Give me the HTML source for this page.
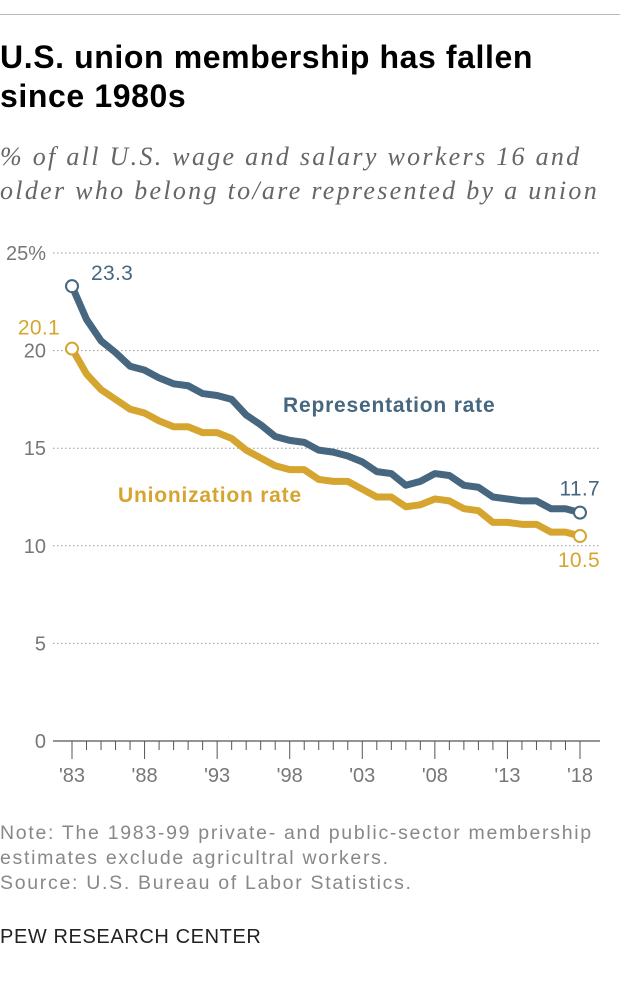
<!DOCTYPE html>
<html><head><meta charset="utf-8"><style>
body{margin:0;background:#fff;width:620px;height:990px;overflow:hidden;font-family:"Liberation Sans",sans-serif}
.rule{position:absolute;left:0;top:14px;width:620px;height:1px;background:#bbb}
h1{position:absolute;left:0;top:38px;margin:0;font-size:32px;line-height:39px;font-weight:bold;color:#000;width:580px;letter-spacing:0.6px}
.sub{position:absolute;left:0;top:140px;font-family:"Liberation Serif",serif;font-style:italic;font-size:26px;line-height:34px;color:#666;letter-spacing:2.3px;white-space:nowrap}
.note{position:absolute;left:0;top:821px;font-size:19.5px;line-height:25px;color:#888;letter-spacing:1.7px;white-space:nowrap}
.pew{position:absolute;left:0;top:926px;font-size:20px;color:#222;letter-spacing:0.6px}
svg{position:absolute;left:0;top:0}
</style></head><body>
<div class="rule"></div>
<h1>U.S. union membership has fallen since 1980s</h1>
<div class="sub">% of all U.S. wage and salary workers 16 and<br>older who belong to/are represented by a union</div>
<svg id="chart" width="620" height="990"></svg>
<div class="note">Note: The 1983-99 private- and public-sector membership<br>estimates exclude agricultral workers.<br>Source: U.S. Bureau of Labor Statistics.</div>
<div class="pew">PEW RESEARCH CENTER</div>
<script>
const years=[1983,1984,1985,1986,1987,1988,1989,1990,1991,1992,1993,1994,1995,1996,1997,1998,1999,2000,2001,2002,2003,2004,2005,2006,2007,2008,2009,2010,2011,2012,2013,2014,2015,2016,2017,2018];
const representation=[23.3,21.6,20.5,19.9,19.2,19.0,18.6,18.3,18.2,17.8,17.7,17.5,16.7,16.2,15.6,15.4,15.3,14.9,14.8,14.6,14.3,13.8,13.7,13.1,13.3,13.7,13.6,13.1,13.0,12.5,12.4,12.3,12.3,11.9,11.9,11.7];
const unionization=[20.1,18.8,18.0,17.5,17.0,16.8,16.4,16.1,16.1,15.8,15.8,15.5,14.9,14.5,14.1,13.9,13.9,13.4,13.3,13.3,12.9,12.5,12.5,12.0,12.1,12.4,12.3,11.9,11.8,11.2,11.2,11.1,11.1,10.7,10.7,10.5];
const yTicks=[0,5,10,15,20,25];
const yTickLabels=["0","5","10","15","20","25%"];
const xTickYears=[1983,1988,1993,1998,2003,2008,2013,2018];
const xTickLabels=["'83","'88","'93","'98","'03","'08","'13","'18"];
const X=y=>72+(y-1983)*(580-72)/35;
const Y=v=>741-v*(741-253)/25;
const svg=document.getElementById('chart');const NS='http://www.w3.org/2000/svg';
function mk(t,a){const e=document.createElementNS(NS,t);for(const k in a)e.setAttribute(k,a[k]);svg.appendChild(e);return e;}
yTicks.forEach((t,i)=>{
 if(t>0){const g=mk('line',{x1:53,x2:600,y1:Y(t),y2:Y(t),stroke:'#999','stroke-dasharray':'1.5,2.5'});
 
 }
 const l=mk('text',{x:46,y:Y(t)+7,'text-anchor':'end','font-size':20,fill:'#777','font-family':'Liberation Sans, sans-serif'});l.textContent=yTickLabels[i];
 
 
});
const ax=mk('line',{x1:53,x2:600,y1:Y(0),y2:Y(0),stroke:'#555','stroke-width':1.2});


years.forEach(y=>{const maj=xTickYears.includes(y);const t=mk('line',{x1:X(y),x2:X(y),y1:Y(0),y2:Y(0)+(maj?18:9),stroke:'#555'});
 
 });
xTickYears.forEach((y,i)=>{const l=mk('text',{x:X(y),y:782,'text-anchor':'middle','font-size':20,fill:'#777','font-family':'Liberation Sans, sans-serif'});l.textContent=xTickLabels[i];
 
 });
function series(vals,col,name){
 const p=mk('polyline',{points:vals.map((v,i)=>X(years[i])+','+Y(v)).join(' '),fill:'none',stroke:col,'stroke-width':7,'stroke-linejoin':'round'});
 
 
 [0,vals.length-1].forEach(i=>{const c=mk('circle',{cx:X(years[i]),cy:Y(vals[i]),r:6,fill:'#fff',stroke:col,'stroke-width':2});
  
  });
}
series(representation,'#46677f','representation');
series(unionization,'#d5a52f','unionization');
function txt(x,y,s,col,b,anchor,name){const t=mk('text',{x:x,y:y,fill:col,'font-size':21,'font-weight':b?'bold':'normal','text-anchor':anchor||'start','letter-spacing':b?0.8:0.3,'font-family':'Liberation Sans, sans-serif'});t.textContent=s;
 
 }
txt(91,Y(representation[0])-6,representation[0].toFixed(1),'#46677f',false,'start','rep-start-label');
txt(60,Y(unionization[0])-14,unionization[0].toFixed(1),'#d5a52f',false,'end','union-start-label');
txt(600,Y(representation[35])-17,representation[35].toFixed(1),'#46677f',false,'end','rep-end-label');
txt(600,Y(unionization[35])+31,unionization[35].toFixed(1),'#d5a52f',false,'end','union-end-label');
txt(283,412,'Representation rate','#46677f',true,'start','representation-legend');
txt(118,502,'Unionization rate','#d5a52f',true,'start','unionization-legend');
</script>
</body></html>
